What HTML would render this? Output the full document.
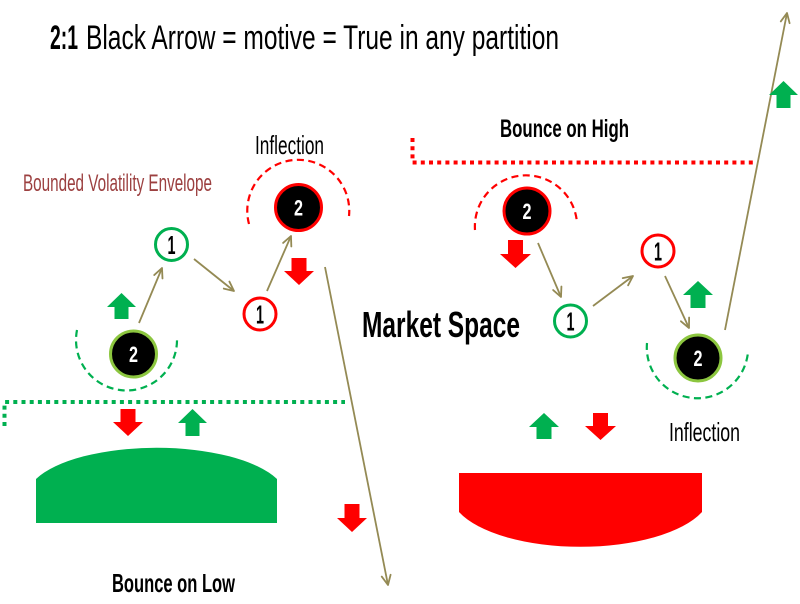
<!DOCTYPE html>
<html>
<head>
<meta charset="utf-8">
<style>
  html, body { margin: 0; padding: 0; background: #ffffff; }
  body { width: 800px; height: 604px; overflow: hidden; }
  svg { display: block; }
  text { font-family: "Liberation Sans Narrow", "Liberation Sans", sans-serif; }
</style>
</head>
<body>
<svg width="800" height="604" viewBox="0 0 800 604" xmlns="http://www.w3.org/2000/svg">
  <defs>
    <marker id="ah" markerUnits="userSpaceOnUse" markerWidth="14" markerHeight="14" refX="11" refY="6" orient="auto">
      <path d="M1.5,1.5 L11,6 L1.5,10.5" fill="none" stroke="#948a54" stroke-width="1.8" stroke-linecap="round" stroke-linejoin="round"/>
    </marker>
  </defs>

  <!-- Title -->
  <text x="50" y="49" font-size="34" font-weight="bold" fill="#000" textLength="28" lengthAdjust="spacingAndGlyphs">2:1</text>
  <text x="86" y="49" font-size="34" fill="#000" textLength="473" lengthAdjust="spacingAndGlyphs">Black Arrow = motive = True in any partition</text>

  <!-- Labels -->
  <text x="255" y="154" font-size="26" fill="#000" textLength="69" lengthAdjust="spacingAndGlyphs">Inflection</text>
  <text x="23" y="191" font-size="24" fill="#9c4040" textLength="189" lengthAdjust="spacingAndGlyphs">Bounded Volatility Envelope</text>
  <text x="500" y="137" font-size="25" font-weight="bold" fill="#000" textLength="129" lengthAdjust="spacingAndGlyphs">Bounce on High</text>
  <text x="362" y="337" font-size="36" font-weight="bold" fill="#000" textLength="158" lengthAdjust="spacingAndGlyphs">Market Space</text>
  <text x="669" y="441" font-size="26" fill="#000" textLength="71" lengthAdjust="spacingAndGlyphs">Inflection</text>
  <text x="112" y="592" font-size="26" font-weight="bold" fill="#000" textLength="123" lengthAdjust="spacingAndGlyphs">Bounce on Low</text>

  <!-- Dotted boundary lines -->
  <path d="M412.5,138 L412.5,162.5 L753,162.5" fill="none" stroke="#ff0000" stroke-width="4" stroke-dasharray="4 4.2"/>
  <path d="M4.5,426 L4.5,402 L345,402" fill="none" stroke="#00b050" stroke-width="4" stroke-dasharray="4 4.2"/>

  <!-- Dashed arcs -->
  <path d="M249,224 A51,51 0 1 1 349,216" fill="none" stroke="#ff0000" stroke-width="2.2" stroke-dasharray="7 4.5"/>
  <path d="M475,230 A51,51 0 1 1 577,223" fill="none" stroke="#ff0000" stroke-width="2.2" stroke-dasharray="7 4.5"/>
  <path d="M77,330 A50.5,50.5 0 1 0 177,339" fill="none" stroke="#00b050" stroke-width="2.2" stroke-dasharray="7 4.5"/>
  <path d="M647,343 A50.5,50.5 0 1 0 748,352" fill="none" stroke="#00b050" stroke-width="2.2" stroke-dasharray="7 4.5"/>

  <!-- Olive connectors -->
  <g stroke="#948a54" stroke-width="1.8" fill="none" marker-end="url(#ah)">
    <line x1="139" y1="323" x2="162" y2="268"/>
    <line x1="194" y1="259" x2="234" y2="291"/>
    <line x1="267" y1="291" x2="291" y2="236"/>
    <line x1="325" y1="267" x2="388" y2="585"/>
    <line x1="538" y1="243" x2="561" y2="297"/>
    <line x1="593" y1="306" x2="633" y2="276"/>
    <line x1="665" y1="276" x2="689" y2="328"/>
    <line x1="725" y1="330" x2="787" y2="13"/>
  </g>

  <!-- Nodes: 2 (black) -->
  <circle cx="298.5" cy="207.5" r="23" fill="#000" stroke="#ff0000" stroke-width="3"/>
  <text x="298.5" y="215.5" font-size="22" font-weight="bold" fill="#fff" text-anchor="middle" textLength="9" lengthAdjust="spacingAndGlyphs">2</text>

  <circle cx="527" cy="211" r="23" fill="#000" stroke="#ff0000" stroke-width="3"/>
  <text x="527" y="219" font-size="22" font-weight="bold" fill="#fff" text-anchor="middle" textLength="9" lengthAdjust="spacingAndGlyphs">2</text>

  <circle cx="133.5" cy="354" r="23" fill="#000" stroke="#8cc63f" stroke-width="3"/>
  <text x="133.5" y="362" font-size="22" font-weight="bold" fill="#fff" text-anchor="middle" textLength="9" lengthAdjust="spacingAndGlyphs">2</text>

  <circle cx="698" cy="358" r="23" fill="#000" stroke="#8cc63f" stroke-width="3"/>
  <text x="698" y="366" font-size="22" font-weight="bold" fill="#fff" text-anchor="middle" textLength="9" lengthAdjust="spacingAndGlyphs">2</text>

  <!-- Nodes: 1 (white) -->
  <circle cx="171.5" cy="244.5" r="16" fill="#fff" stroke="#00b050" stroke-width="3"/>
  <text x="171.5" y="254" font-size="26" font-weight="bold" fill="#000" text-anchor="middle" textLength="8" lengthAdjust="spacingAndGlyphs">1</text>

  <circle cx="260" cy="314" r="16" fill="#fff" stroke="#ff0000" stroke-width="3"/>
  <text x="260" y="323.5" font-size="26" font-weight="bold" fill="#000" text-anchor="middle" textLength="8" lengthAdjust="spacingAndGlyphs">1</text>

  <circle cx="570.5" cy="321" r="16" fill="#fff" stroke="#00b050" stroke-width="3"/>
  <text x="570.5" y="330.5" font-size="26" font-weight="bold" fill="#000" text-anchor="middle" textLength="8" lengthAdjust="spacingAndGlyphs">1</text>

  <circle cx="658" cy="251" r="16" fill="#fff" stroke="#ff0000" stroke-width="3"/>
  <text x="658" y="260.5" font-size="26" font-weight="bold" fill="#000" text-anchor="middle" textLength="8" lengthAdjust="spacingAndGlyphs">1</text>

  <!-- Green up block arrows -->
  <g fill="#00b050">
    <path d="M121.5,293 L136,307 L128.5,307 L128.5,319 L114.5,319 L114.5,307 L107,307 Z"/>
    <path d="M192.5,409 L207,423 L199.5,423 L199.5,436 L185.5,436 L185.5,423 L178,423 Z"/>
    <path d="M698,281 L713,295 L705.5,295 L705.5,308 L690.5,308 L690.5,295 L683,295 Z"/>
    <path d="M783.5,81 L798,95 L790.5,95 L790.5,108 L776.5,108 L776.5,95 L769,95 Z"/>
    <path d="M544,413 L559,427 L551.5,427 L551.5,439 L536.5,439 L536.5,427 L529,427 Z"/>
  </g>

  <!-- Red down block arrows -->
  <g fill="#ff0000">
    <path d="M291.5,258 L306.5,258 L306.5,271 L314,271 L299,285 L284,271 L291.5,271 Z"/>
    <path d="M508,240 L523,240 L523,254 L531,254 L515.5,268 L500,254 L508,254 Z"/>
    <path d="M120.5,409 L135.5,409 L135.5,422 L143,422 L128,436 L113,422 L120.5,422 Z"/>
    <path d="M344.5,504 L359.5,504 L359.5,518 L367,518 L352,532 L337,518 L344.5,518 Z"/>
    <path d="M593,413 L608,413 L608,426 L616,426 L600.5,440 L585,426 L593,426 Z"/>
  </g>

  <!-- Dome (green) and bowl (red) -->
  <path d="M36,523 L36,479 A130,50 0 0 1 277,479 L277,523 Z" fill="#00b050"/>
  <path d="M459,473 L702,473 L702,512 A130,54 0 0 1 459,512 Z" fill="#ff0000"/>
</svg>
</body>
</html>
